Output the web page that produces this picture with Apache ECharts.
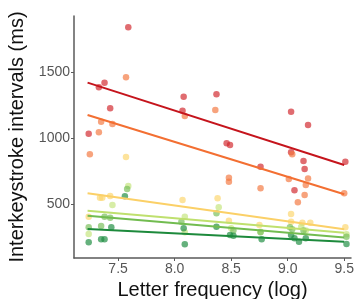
<!DOCTYPE html>
<html><head><meta charset="utf-8">
<script src="https://cdn.jsdelivr.net/npm/echarts@6/dist/echarts.min.js"></script>
<style>html,body{margin:0;padding:0;background:#fff}#c{width:356px;height:299px}</style>
</head><body><div id="c"></div>
<script>
// Group points: [log letter frequency, interkeystroke interval ms]
var redPts = [[7.24,1033],[7.33,1384],[7.38,1419],[7.43,1225],[7.59,1839],[8.08,1313],[8.07,1207],[8.37,1331],[8.46,960],[8.49,947],[8.76,783],[9.03,1199],[9.03,892],[9.06,604],[9.14,826],[9.15,765],[9.18,1098],[9.51,820]];
var orangePts = [[7.25,876],[7.33,1043],[7.35,1123],[7.45,1106],[7.57,1460],[8.09,1167],[8.36,1212],[8.48,699],[8.48,669],[8.76,619],[9.01,689],[9.04,876],[9.09,513],[9.16,644],[9.18,694],[9.15,568],[9.5,581]];
var yellowPts = [[7.24,404],[7.34,548],[7.36,548],[7.43,561],[7.57,856],[8.07,530],[8.38,543],[8.48,374],[8.75,341],[9.03,424],[9.03,366],[9.13,358],[9.2,358],[9.51,323]];
var lgreenPts = [[7.24,273],[7.45,492],[7.59,636],[8.09,404],[8.09,286],[8.39,475],[8.5,316],[8.76,290],[9.12,328],[9.16,300],[9.52,270]];
var greenPts = [[7.24,323],[7.38,404],[7.43,396],[7.35,333],[7.58,614],[8.06,366],[8.37,430],[8.52,300],[8.76,286],[9.02,323],[9.04,308],[9.14,300],[9.52,252]];
var dgreenPts = [[7.24,210],[7.35,233],[7.38,233],[7.44,323],[7.56,558],[8.08,316],[8.09,195],[8.37,328],[8.49,265],[8.52,260],[8.77,233],[9.03,265],[9.06,240],[9.1,214],[9.16,240],[9.52,197]];
// Fitted regression lines (value at each end of lineX)
var lineX = [7.23, 9.5];
var redFit = [1419, 795];
var orangeFit = [1174, 574];
var yellowFit = [581, 308];
var lgreenFit = [449, 282];
var greenFit = [411, 246];
var dgreenFit = [311, 214];
var xTicks = [7.5, 8.0, 8.5, 9.0, 9.5];
var yTicks = [500, 1000, 1500];

var groups = [
  {pts: redPts, fit: redFit, dot: 'rgba(210,40,45,0.85)', line: '#c5141c'},
  {pts: orangePts, fit: orangeFit, dot: 'rgba(244,120,64,0.85)', line: '#f36f32'},
  {pts: yellowPts, fit: yellowFit, dot: 'rgba(252,214,110,0.85)', line: '#fbd067'},
  {pts: lgreenPts, fit: lgreenFit, dot: 'rgba(196,228,125,0.85)', line: '#bfe06e'},
  {pts: greenPts, fit: greenFit, dot: 'rgba(120,190,90,0.85)', line: '#72bc50'},
  {pts: dgreenPts, fit: dgreenFit, dot: 'rgba(30,140,65,0.85)', line: '#1d8a3c'}
];
var series = [];
groups.forEach(function(g){
  series.push({type:'scatter', data:g.pts, symbolSize:6.5, itemStyle:{color:g.dot}, z:2});
});
groups.forEach(function(g){
  series.push({type:'line', data: lineX.map(function(x,i){return [x, g.fit[i]];}), symbol:'none',
    lineStyle:{color:g.line, width:2}, z:3});
});

var chart = echarts.init(document.getElementById('c'), null, {renderer:'canvas'});
var axisCol = '#5a5a5a';
var ff = 'Liberation Sans, Arial, sans-serif';
chart.setOption({
  animation:false,
  grid:{left:74, right:5, top:16, bottom:41, containLabel:false, outerBoundsMode:'none'},
  xAxis:{type:'value', min:7.11, max:9.56,
    name:'Letter frequency (log)', nameLocation:'middle', nameGap:19,
    nameTextStyle:{fontSize:20, color:'#111', fontFamily:ff},
    axisLine:{show:true, lineStyle:{color:axisCol, width:1.5}},
    axisTick:{show:true, length:3, customValues:xTicks, lineStyle:{color:axisCol}},
    axisLabel:{customValues:xTicks, fontSize:14, color:'#555', margin:4, fontFamily:ff,
      formatter:function(v){return v.toFixed(1);}},
    splitLine:{show:false}},
  yAxis:{type:'value', min:91, max:1924,
    name:'Interkeystroke intervals (ms)', nameLocation:'middle', nameGap:34,
    nameTextStyle:{fontSize:20, color:'#111', fontFamily:ff},
    axisLine:{show:true, lineStyle:{color:axisCol, width:1.5}},
    axisTick:{show:true, length:3, customValues:yTicks, lineStyle:{color:axisCol}},
    axisLabel:{customValues:yTicks, fontSize:14, color:'#555', margin:4, fontFamily:ff,
      formatter:function(v){return String(v);}},
    splitLine:{show:false}},
  series: series
});
</script></body></html>
